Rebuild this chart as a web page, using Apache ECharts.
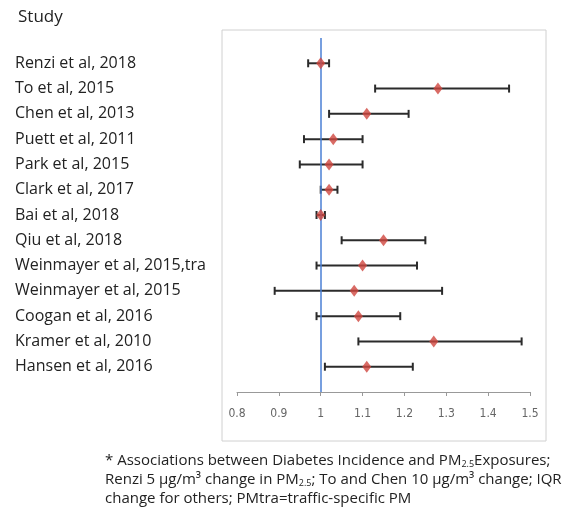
<!DOCTYPE html>
<html><head><meta charset="utf-8">
<script src="https://cdn.jsdelivr.net/npm/echarts@6/dist/echarts.min.js"></script>
<style>html,body{margin:0;padding:0;background:#fff}#c{width:580px;height:511px}</style>
</head><body><div id="c"></div>
<script>
const studies = ["Renzi et al, 2018","To et al, 2015","Chen et al, 2013","Puett et al, 2011","Park et al, 2015","Clark et al, 2017","Bai et al, 2018","Qiu et al, 2018","Weinmayer et al, 2015,tra","Weinmayer et al, 2015","Coogan et al, 2016","Kramer et al, 2010","Hansen et al, 2016"];
const estimates = [1.00,1.28,1.11,1.03,1.02,1.02,1.00,1.15,1.10,1.08,1.09,1.27,1.11];
const lower =     [0.97,1.13,1.02,0.96,0.95,1.00,0.99,1.05,0.99,0.89,0.99,1.09,1.01];
const upper =     [1.02,1.45,1.21,1.10,1.10,1.04,1.01,1.25,1.23,1.29,1.19,1.48,1.22];
const xTicks = ["0.8","0.9","1","1.1","1.2","1.3","1.4","1.5"];

const FONT = "'Open Sans', Lato, sans-serif";
const chart = echarts.init(document.getElementById('c'));
const errData = studies.map((s,i)=>[lower[i], upper[i], i+1]);
const ptData = studies.map((s,i)=>[estimates[i], i+1]);

chart.setOption({
  animation:false,
  title:{text:"Study", left:13, top:4, textStyle:{fontFamily:FONT, fontSize:17, fontWeight:'normal', color:'#222'}},
  grid:{left:237, right:50, top:38, bottom:119},
  xAxis:{type:'value', min:0.8, max:1.5, interval:0.1, position:'bottom',
    axisLine:{show:true, onZero:false, lineStyle:{color:'#999', width:1}},
    axisTick:{show:true, length:4, lineStyle:{color:'#999'}},
    splitLine:{show:false},
    axisLabel:{margin:16, color:'#666', fontFamily:"'Liberation Sans Narrow','DejaVu Sans Condensed',sans-serif", fontSize:12,
      formatter:(v)=>{const i=Math.round((v-0.8)*10); return xTicks[i]!==undefined?xTicks[i]:'';}}},
  yAxis:{type:'value', inverse:true, min:0, max:14, interval:1,
    axisLine:{show:false}, axisTick:{show:false}, splitLine:{show:false},
    axisLabel:{align:'left', margin:222, color:'#222', fontFamily:FONT, fontSize:16,
      formatter:(v)=>studies[v-1]||''}},
  graphic:[
    {type:'rect', shape:{x:222, y:30, width:324, height:411}, style:{fill:'none', stroke:'#d0d0d0', lineWidth:1}, z:-1},
    {type:'text', left:105, top:451, style:{
      text:"* Associations between Diabetes Incidence and PM{s|2.5}Exposures;\nRenzi 5 µg/m³ change in PM{s|2.5}; To and Chen 10 µg/m³ change; IQR\nchange for others; PMtra=traffic-specific PM",
      fontFamily:FONT, fontSize:15, fill:'#222', lineHeight:19,
      rich:{s:{fontFamily:FONT, fontSize:9, fill:'#222', padding:[8,0,0,0], lineHeight:19}}}}
  ],
  series:[
    {type:'custom', data:errData, encode:{x:[0,1], y:2},
     renderItem:(params, api)=>{
       const a = api.coord([api.value(0), api.value(2)]);
       const b = api.coord([api.value(1), api.value(2)]);
       const h = 4;
       const st = {stroke:'#2b2b2b', lineWidth:2};
       return {type:'group', children:[
         {type:'line', shape:{x1:a[0], y1:a[1], x2:b[0], y2:b[1]}, style:st},
         {type:'line', shape:{x1:a[0], y1:a[1]-h, x2:a[0], y2:a[1]+h}, style:st},
         {type:'line', shape:{x1:b[0], y1:b[1]-h, x2:b[0], y2:b[1]+h}, style:st}
       ]};
     },
     markLine:{silent:true, symbol:'none', label:{show:false}, lineStyle:{color:'#4a7fd4', width:1.5, type:'solid'}, data:[{xAxis:1}]}
    },
    {type:'scatter', data:ptData, symbol:'diamond', symbolSize:[9,12], itemStyle:{color:'#d0463f'}, z:5}
  ]
});
</script></body></html>
